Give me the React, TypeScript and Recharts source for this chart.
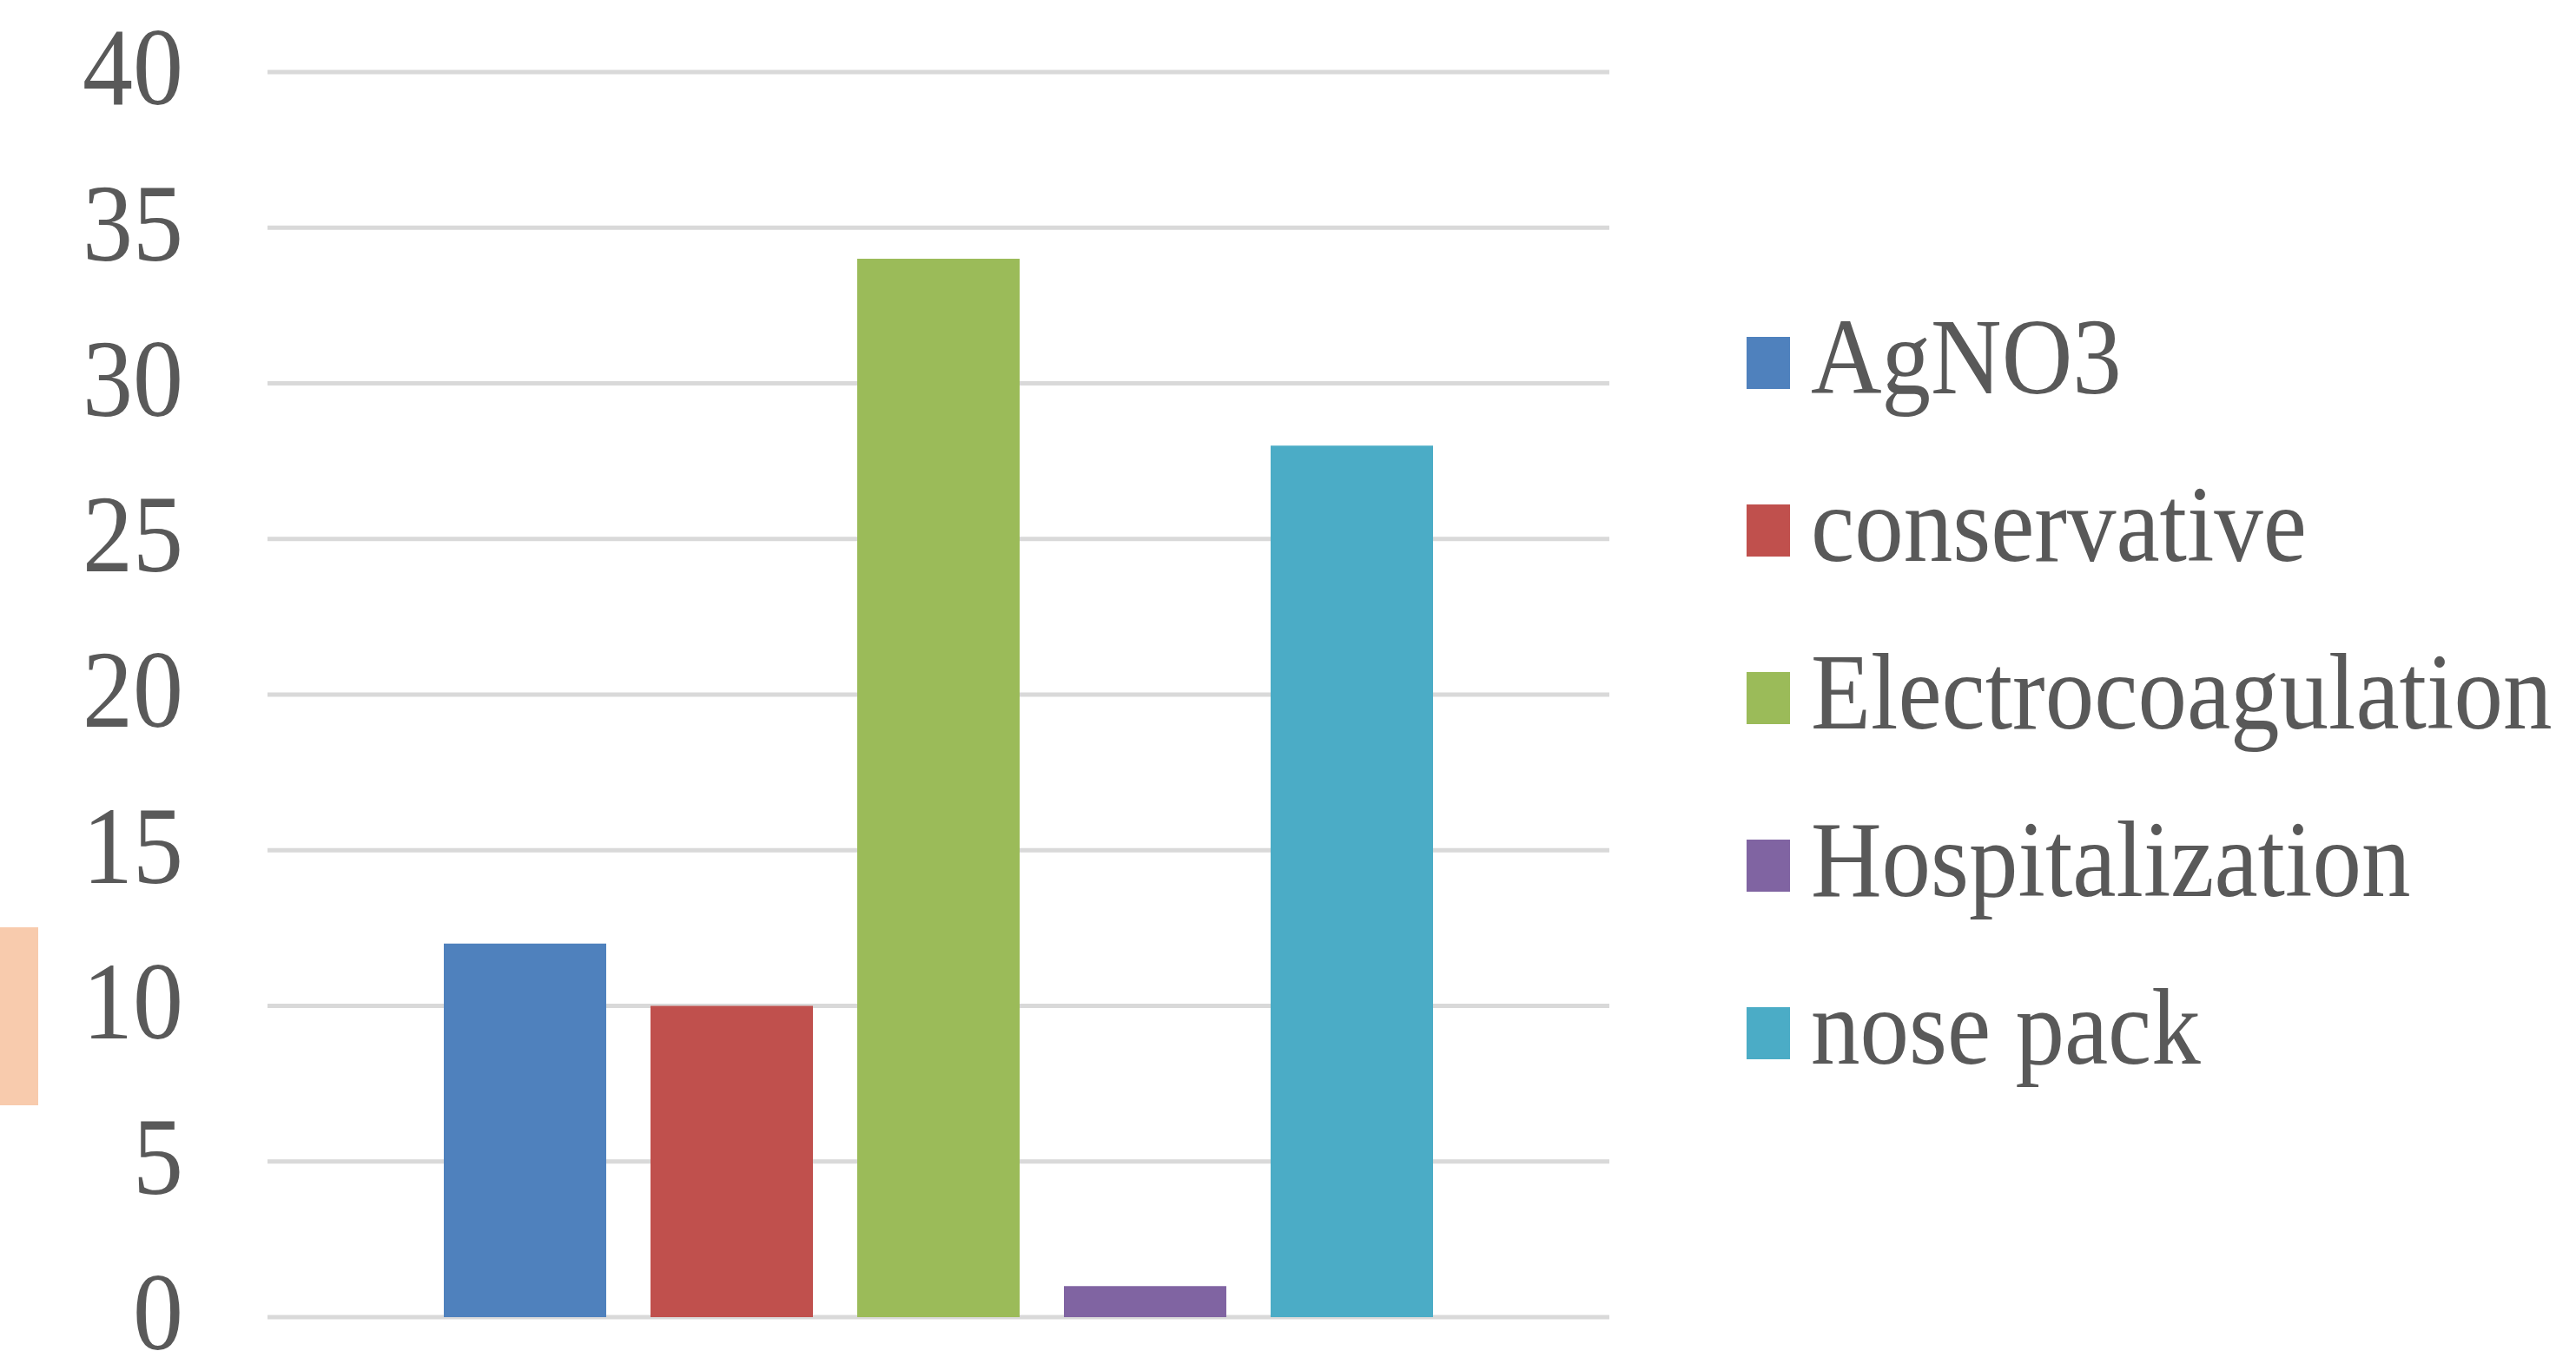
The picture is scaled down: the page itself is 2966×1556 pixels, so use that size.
import React from 'react';
import { BarChart, Bar, XAxis, YAxis, CartesianGrid, Legend } from 'recharts';

const categories = ['Treatment'];
const seriesNames = ['AgNO3', 'conservative', 'Electrocoagulation', 'Hospitalization', 'nose pack'];
const seriesValues = [12, 10, 34, 1, 28];
const seriesColors = ['#4F81BD', '#C0504D', '#9BBB59', '#8064A2', '#4BACC6'];
const yTicks = [0, 5, 10, 15, 20, 25, 30, 35, 40];

const data = categories.map((c) => {
  const row: Record<string, any> = { category: c };
  seriesNames.forEach((n, i) => {
    row[n] = seriesValues[i];
  });
  return row;
});

const FONT = "'Liberation Serif', 'Times New Roman', serif";

const YTick = (props: any) => {
  const { x, y, payload } = props;
  return (
    <g transform={`translate(${x},${y}) scale(1,1.1)`}>
      <text x={0} y={0} dy={34} textAnchor="end" fill="#595959" fontSize={116} fontFamily={FONT}>
        {payload.value}
      </text>
    </g>
  );
};

const LegendContent = (props: any) => {
  const payload = [...(props.payload || [])].sort(
    (a: any, b: any) => seriesNames.indexOf(a.value) - seriesNames.indexOf(b.value)
  );
  return (
    <div style={{ display: 'flex', flexDirection: 'column' }}>
      {payload.map((entry: any) => (
        <div key={entry.value} style={{ display: 'flex', alignItems: 'center', height: 193 }}>
          <div style={{ width: 50, height: 60, background: entry.color, flex: '0 0 auto' }} />
          <span
            style={{
              marginLeft: 24,
              fontSize: 113,
              lineHeight: 1,
              fontFamily: FONT,
              color: '#595959',
              display: 'inline-block',
              transform: 'scaleY(1.1)',
              position: 'relative',
              top: -7,
              whiteSpace: 'nowrap',
            }}
          >
            {entry.value}
          </span>
        </div>
      ))}
    </div>
  );
};

export default function App() {
  return (
    <div style={{ position: 'absolute', left: 0, top: 0, width: 2966, height: 1556, background: '#ffffff', overflow: 'hidden' }}>
      <div style={{ position: 'absolute', left: 0, top: 1068, width: 44, height: 205, background: '#F8CBAD' }} />
      <BarChart
        width={2966}
        height={1556}
        data={data}
        margin={{ top: 83, right: 1113, bottom: 39, left: 0 }}
        barGap={51}
      >
        <CartesianGrid vertical={false} stroke="#D9D9D9" strokeWidth={5} />
        <XAxis dataKey="category" hide />
        <YAxis
          width={308}
          domain={[0, 40]}
          ticks={yTicks}
          interval={0}
          axisLine={false}
          tickLine={false}
          tickSize={0}
          tickMargin={97}
          tick={<YTick />}
        />
        <Legend
          layout="vertical"
          align="center"
          verticalAlign="middle"
          itemSorter={null as any}
          content={<LegendContent />}
          wrapperStyle={{ left: 2011, top: 321, width: 950 }}
        />
        {seriesNames.map((n, i) => (
          <Bar key={n} dataKey={n} name={n} fill={seriesColors[i]} barSize={187} legendType="square" isAnimationActive={false} />
        ))}
      </BarChart>
    </div>
  );
}
